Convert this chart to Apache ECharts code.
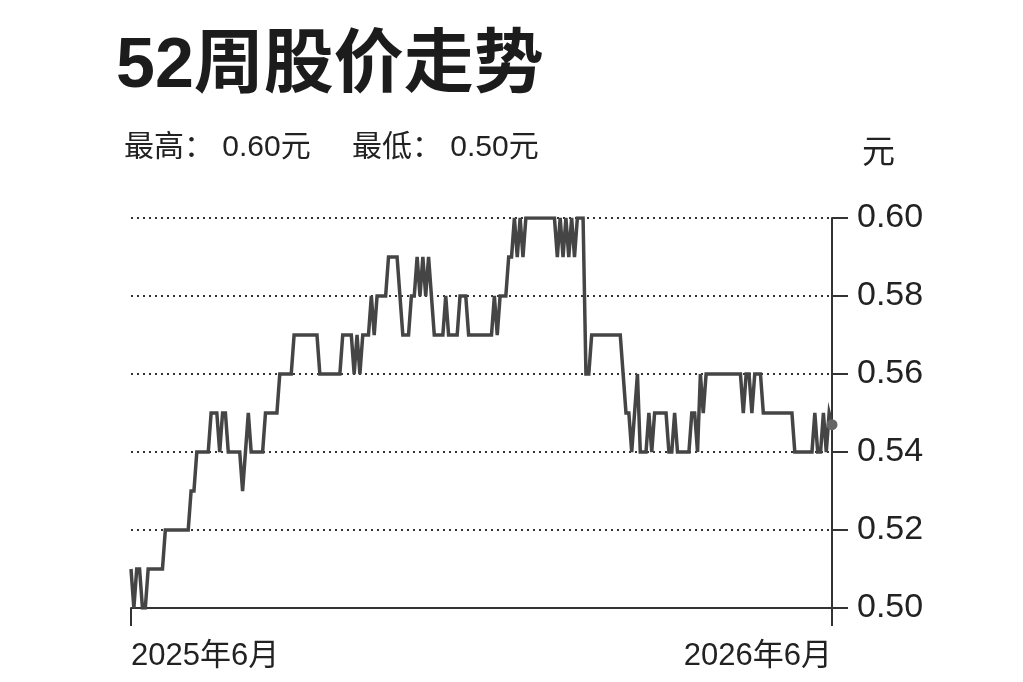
<!DOCTYPE html>
<html>
<head>
<meta charset="utf-8">
<script src="https://cdn.jsdelivr.net/npm/echarts@6/dist/echarts.min.js"></script>
<style>
  html, body { margin: 0; padding: 0; background: #fff; }
  #chart { width: 1023px; height: 682px; }
</style>
</head>
<body>
<div id="chart"></div>
<script>
// daily closes over the 52 weeks (yuan)
const prices = [
  0.51, 0.50, 0.51, 0.51, 0.50, 0.50, 0.51, 0.51, 0.51, 0.51,
  0.51, 0.51, 0.52, 0.52, 0.52, 0.52, 0.52, 0.52, 0.52, 0.52,
  0.52, 0.53, 0.53, 0.54, 0.54, 0.54, 0.54, 0.54, 0.55, 0.55,
  0.55, 0.54, 0.55, 0.55, 0.54, 0.54, 0.54, 0.54, 0.54, 0.53,
  0.54, 0.55, 0.54, 0.54, 0.54, 0.54, 0.54, 0.55, 0.55, 0.55,
  0.55, 0.55, 0.56, 0.56, 0.56, 0.56, 0.56, 0.57, 0.57, 0.57,
  0.57, 0.57, 0.57, 0.57, 0.57, 0.57, 0.56, 0.56, 0.56, 0.56,
  0.56, 0.56, 0.56, 0.56, 0.57, 0.57, 0.57, 0.57, 0.56, 0.57,
  0.56, 0.57, 0.57, 0.57, 0.58, 0.57, 0.58, 0.58, 0.58, 0.58,
  0.59, 0.59, 0.59, 0.59, 0.58, 0.57, 0.57, 0.57, 0.58, 0.58,
  0.59, 0.58, 0.59, 0.58, 0.59, 0.58, 0.57, 0.57, 0.57, 0.57,
  0.58, 0.57, 0.57, 0.57, 0.57, 0.58, 0.58, 0.58, 0.57, 0.57,
  0.57, 0.57, 0.57, 0.57, 0.57, 0.57, 0.57, 0.58, 0.57, 0.58,
  0.58, 0.58, 0.59, 0.59, 0.60, 0.59, 0.60, 0.59, 0.60, 0.60,
  0.60, 0.60, 0.60, 0.60, 0.60, 0.60, 0.60, 0.60, 0.60, 0.59,
  0.60, 0.59, 0.60, 0.59, 0.60, 0.59, 0.60, 0.60, 0.60, 0.56,
  0.56, 0.57, 0.57, 0.57, 0.57, 0.57, 0.57, 0.57, 0.57, 0.57,
  0.57, 0.57, 0.56, 0.55, 0.55, 0.54, 0.55, 0.56, 0.54, 0.54,
  0.54, 0.55, 0.54, 0.55, 0.55, 0.55, 0.55, 0.55, 0.54, 0.54,
  0.55, 0.54, 0.54, 0.54, 0.54, 0.54, 0.55, 0.55, 0.54, 0.56,
  0.55, 0.56, 0.56, 0.56, 0.56, 0.56, 0.56, 0.56, 0.56, 0.56,
  0.56, 0.56, 0.56, 0.56, 0.55, 0.56, 0.56, 0.55, 0.56, 0.56,
  0.56, 0.55, 0.55, 0.55, 0.55, 0.55, 0.55, 0.55, 0.55, 0.55,
  0.55, 0.55, 0.54, 0.54, 0.54, 0.54, 0.54, 0.54, 0.54, 0.55,
  0.54, 0.54, 0.55, 0.54, 0.55, 0.547
];

const days = prices.map((_, i) => i);
const dateLabels = ['2025年6月', '2026年6月'];
const priceTicks = ['0.50', '0.52', '0.54', '0.56', '0.58', '0.60'];

const TITLE = '52周股价走势';
const UNIT = '元';

const last = prices.length - 1;
const high = Math.max(...prices).toFixed(2);
const low = Math.min(...prices).toFixed(2);

const LATIN = "'Liberation Sans', 'Noto Sans CJK SC', sans-serif";
const INK = '#222';

const chart = echarts.init(document.getElementById('chart'));

chart.setOption({
  animation: false,
  title: [
    {
      text: TITLE,
      left: 116,
      top: 33,
      padding: 0,
      textStyle: { fontSize: 70, fontWeight: 'bold', color: '#1c1c1c', fontFamily: LATIN },
    },
    {
      text: '最高： ' + high + UNIT,
      left: 124,
      top: 133,
      padding: 0,
      textStyle: { fontSize: 30, fontWeight: 'normal', color: INK, fontFamily: LATIN },
    },
    {
      text: '最低： ' + low + UNIT,
      left: 352,
      top: 133,
      padding: 0,
      textStyle: { fontSize: 30, fontWeight: 'normal', color: INK, fontFamily: LATIN },
    },
  ],
  grid: { left: 131, right: 191, top: 218, bottom: 74 },
  xAxis: {
    type: 'category',
    data: days,
    boundaryGap: false,
    axisLine: { lineStyle: { color: '#333', width: 2 } },
    axisTick: {
      show: true,
      length: 18,
      interval: (i) => i === 0 || i === last,
      lineStyle: { color: '#333', width: 2 },
    },
    axisLabel: {
      interval: (i) => i === 0 || i === last,
      formatter: (v, i) => (i === 0 ? dateLabels[0] : dateLabels[1]),
      alignMinLabel: 'left',
      alignMaxLabel: 'right',
      margin: 33,
      fontSize: 31,
      color: INK,
      fontFamily: LATIN,
    },
    splitLine: { show: false },
  },
  yAxis: {
    type: 'value',
    position: 'right',
    min: 0.5,
    max: 0.6,
    interval: 0.02,
    name: UNIT,
    nameLocation: 'end',
    nameGap: 48,
    nameTextStyle: { fontSize: 33, color: INK, fontFamily: LATIN, align: 'left', padding: [0, 0, 0, 30] },
    axisLine: { show: true, lineStyle: { color: '#333', width: 2 } },
    axisTick: { show: true, length: 16, lineStyle: { color: '#333', width: 2 } },
    axisLabel: {
      margin: 25,
      fontSize: 34,
      color: INK,
      fontFamily: LATIN,
      formatter: (v) => priceTicks[Math.round((v - 0.5) / 0.02)],
    },
    splitLine: {
      show: true,
      lineStyle: { color: '#333', width: 2, type: [2, 4] },
    },
  },
  series: [{
    type: 'line',
    data: prices,
    showSymbol: true,
    showAllSymbol: true,
    symbol: 'circle',
    symbolSize: (v, p) => (p.dataIndex === last ? 11 : 0),
    itemStyle: { color: '#666' },
    lineStyle: { color: '#454545', width: 3.5, join: 'miter' },
    z: 3,
  }],
});
</script>
</body>
</html>
